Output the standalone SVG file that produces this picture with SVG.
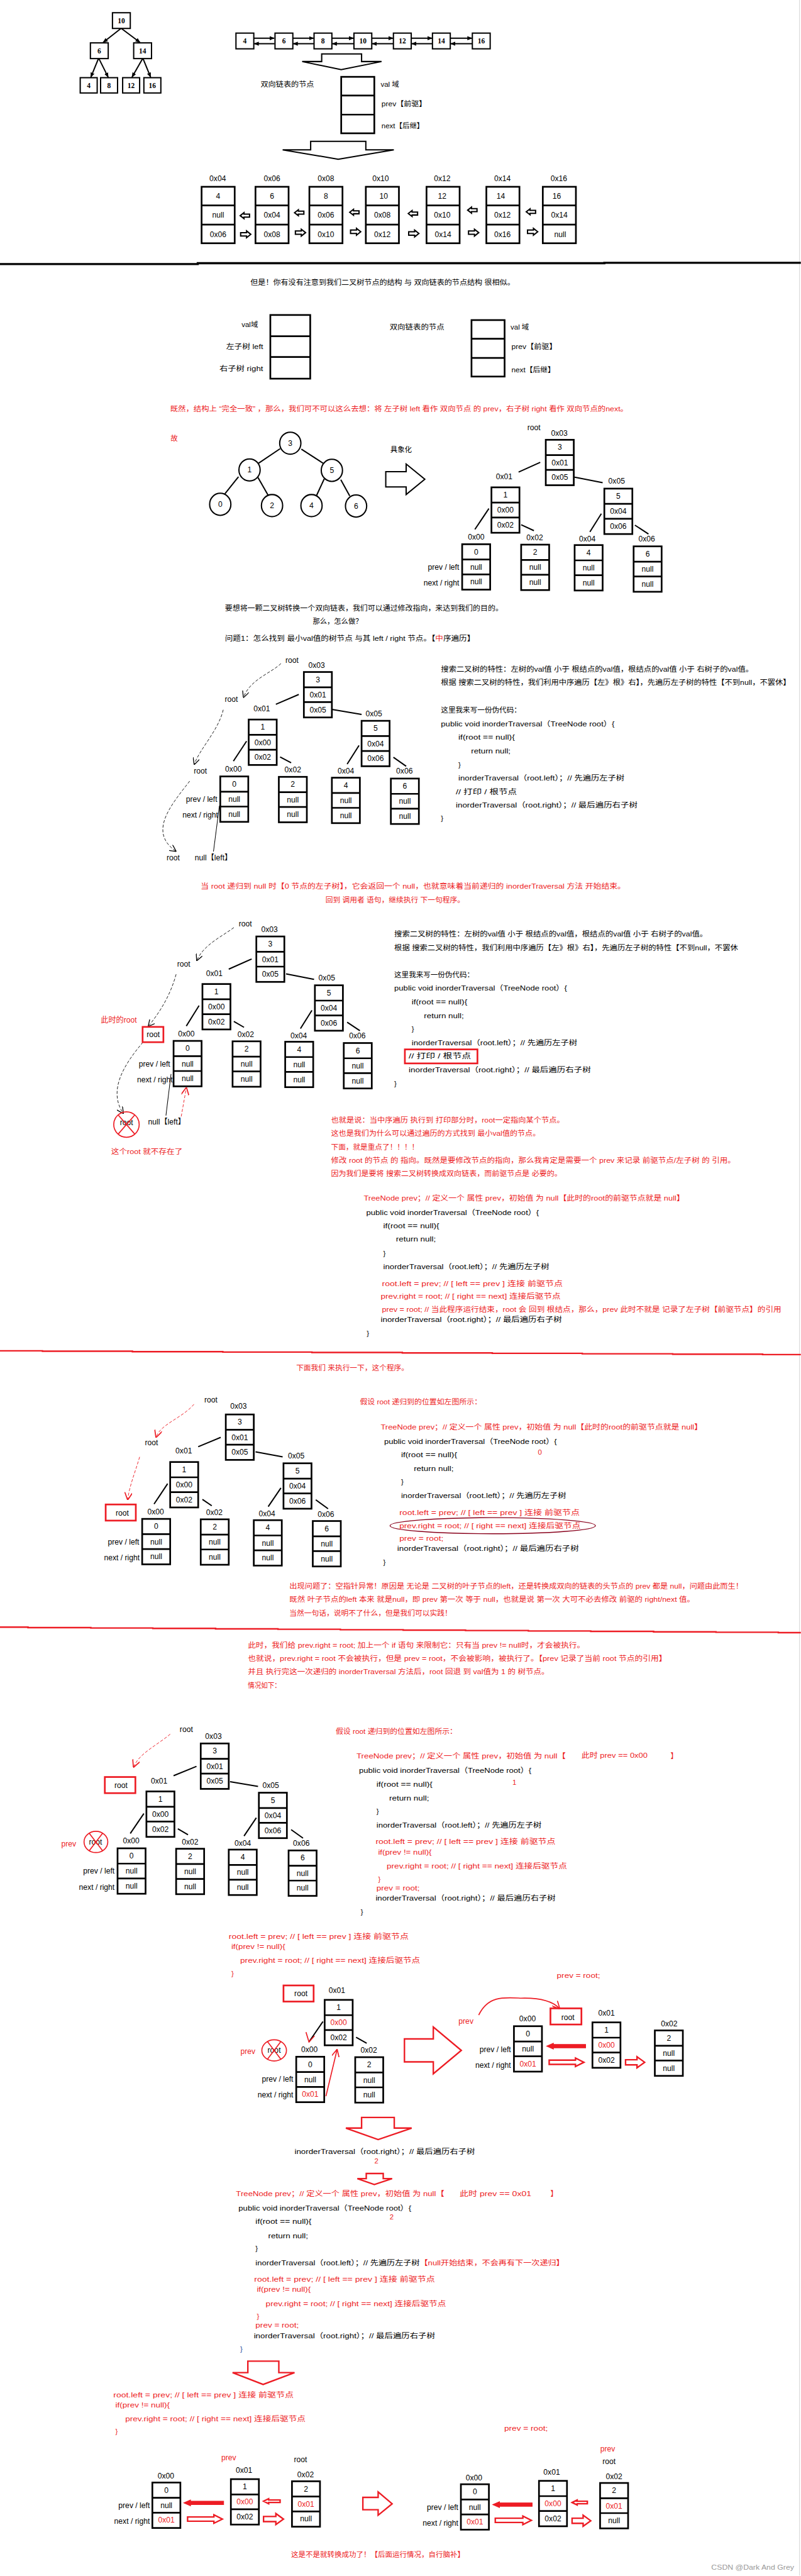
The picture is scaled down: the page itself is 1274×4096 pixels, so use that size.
<svg xmlns="http://www.w3.org/2000/svg" xmlns:xlink="http://www.w3.org/1999/xlink" width="1274" height="4096" viewBox="0 0 1274 4096">
<style>
.t{font-family:"Liberation Sans","Noto Sans CJK SC",sans-serif;font-size:17px;dominant-baseline:central;fill:#000}
.r{fill:#ed1c24}
.m{text-anchor:middle}
.e{text-anchor:end}
.v{font-size:18px}
.sf{font-family:"Liberation Serif","Noto Sans CJK SC",serif;font-weight:bold}
.bx{fill:#fff;stroke:#000;stroke-width:4}
.bt{fill:#fff;stroke:#000;stroke-width:3}
.dv{stroke:#000;stroke-width:4}
.ln{stroke:#000;stroke-width:3;fill:none}
.lr{stroke:#ed1c24;stroke-width:2.5;fill:none}
.dsh{stroke:#000;stroke-width:1.3;fill:none;stroke-dasharray:7 4}
.rdsh{stroke:#ed1c24;stroke-width:1.4;fill:none;stroke-dasharray:7 4}
.rbox{fill:none;stroke:#ed1c24;stroke-width:4}
.ha{fill:#fff;stroke:#000;stroke-width:3;stroke-linejoin:miter}
.hr{fill:#fff;stroke:#ed1c24;stroke-width:3.5}
.fr{fill:#ed1c24;stroke:#ed1c24;stroke-width:1.5}
</style>
<defs>
<marker id="ab" viewBox="0 0 10 10" refX="9" refY="5" markerUnits="userSpaceOnUse" markerWidth="12" markerHeight="12" orient="auto"><path d="M0,1 L10,5 L0,9 z" fill="#000"/></marker>
<marker id="ok" viewBox="0 0 10 10" refX="9" refY="5" markerUnits="userSpaceOnUse" markerWidth="16" markerHeight="16" orient="auto"><path d="M0,0 L10,5 L0,10" fill="none" stroke="#000" stroke-width="1.2"/></marker>
<marker id="or" viewBox="0 0 10 10" refX="9" refY="5" markerUnits="userSpaceOnUse" markerWidth="18" markerHeight="18" orient="auto"><path d="M0,0 L10,5 L0,10" fill="none" stroke="#ed1c24" stroke-width="1.4"/></marker>
<g id="b"><rect x="0" y="0" width="66" height="107" class="bx"/><line x1="0" y1="36" x2="66" y2="36" class="dv"/><line x1="0" y1="71" x2="66" y2="71" class="dv"/></g>
<g id="L"><rect x="0" y="0" width="78" height="133" class="bx"/><line x1="0" y1="44" x2="78" y2="44" class="dv"/><line x1="0" y1="89" x2="78" y2="89" class="dv"/></g>
<path id="sl" d="M-11,0 L-2,-7 L-2,-3.5 L11,-3.5 L11,3.5 L-2,3.5 L-2,7 Z" class="ha"/>
<path id="sr" d="M12,0 L2,-8 L2,-4 L-12,-4 L-12,4 L2,4 L2,8 Z" class="ha"/>
</defs>
<rect x="0" y="0" width="1274" height="4096" fill="#fff"/>
<g transform="scale(0.675)">
<line x1="1884" y1="0" x2="1884" y2="6067" stroke="#d4d4d4" stroke-width="1.5"/>

<!-- ============ connectors ============ -->
<g id="connectors">
<!-- top tree -->
<line x1="285" y1="67" x2="243" y2="100" class="ln" marker-end="url(#ab)"/>
<line x1="286" y1="67" x2="330" y2="100" class="ln" marker-end="url(#ab)"/>
<line x1="232" y1="138" x2="214" y2="182" class="ln" marker-end="url(#ab)"/>
<line x1="233" y1="138" x2="255" y2="182" class="ln" marker-end="url(#ab)"/>
<line x1="336" y1="138" x2="311" y2="182" class="ln" marker-end="url(#ab)"/>
<line x1="337" y1="138" x2="355" y2="182" class="ln" marker-end="url(#ab)"/>
<!-- list double arrows -->
<line x1="598" y1="90" x2="646" y2="90" class="ln" marker-end="url(#ab)"/><line x1="647" y1="103" x2="599" y2="103" class="ln" marker-end="url(#ab)"/>
<line x1="690" y1="90" x2="739" y2="90" class="ln" marker-end="url(#ab)"/><line x1="740" y1="103" x2="691" y2="103" class="ln" marker-end="url(#ab)"/>
<line x1="782" y1="90" x2="833" y2="90" class="ln" marker-end="url(#ab)"/><line x1="834" y1="103" x2="783" y2="103" class="ln" marker-end="url(#ab)"/>
<line x1="876" y1="90" x2="926" y2="90" class="ln" marker-end="url(#ab)"/><line x1="927" y1="103" x2="877" y2="103" class="ln" marker-end="url(#ab)"/>
<line x1="969" y1="90" x2="1018" y2="90" class="ln" marker-end="url(#ab)"/><line x1="1019" y1="103" x2="970" y2="103" class="ln" marker-end="url(#ab)"/>
<line x1="1061" y1="90" x2="1112" y2="90" class="ln" marker-end="url(#ab)"/><line x1="1113" y1="103" x2="1062" y2="103" class="ln" marker-end="url(#ab)"/>
<!-- big down arrows -->
<polygon points="758,127 852,127 852,145 899,145 804,164 712,145 758,145" class="ha"/>
<polygon points="732,333 862,333 862,353 928,353 797,375 666,353 732,353" class="ha"/>
<!-- small list arrows -->
<use href="#sl" x="577" y="508"/><use href="#sl" x="705" y="501"/><use href="#sl" x="835" y="500"/><use href="#sl" x="973" y="503"/><use href="#sl" x="1113" y="495"/><use href="#sl" x="1251" y="499"/>
<use href="#sr" x="579" y="552"/><use href="#sr" x="708" y="548"/><use href="#sr" x="838" y="546"/><use href="#sr" x="975" y="550"/><use href="#sr" x="1116" y="548"/><use href="#sr" x="1255" y="546"/>
<!-- separators -->
<polyline points="0,622 466,622 466,620 1424,620 1424,619 1887,619" fill="none" stroke="#000" stroke-width="5"/>
<polyline points="0,3182 100,3182 100,3183 312,3183 312,3184 525,3184 525,3185 735,3185 735,3186 948,3186 948,3187 1160,3187 1160,3188 1372,3188 1372,3189 1585,3189 1585,3190 1797,3190 1797,3191 1887,3191" fill="none" stroke="#ed1c24" stroke-width="3.5"/>
<polyline points="0,3833 66,3833 66,3834 214,3834 214,3835 360,3835 360,3836 508,3836 508,3837 655,3837 655,3838 802,3838 802,3839 950,3839 950,3840 1097,3840 1097,3841 1245,3841 1245,3842 1392,3842 1392,3843 1540,3843 1540,3844 1687,3844 1687,3845 1834,3845 1834,3846 1887,3846" fill="none" stroke="#ed1c24" stroke-width="3.5"/>
<!-- circle tree -->
<line x1="660" y1="1057" x2="608" y2="1092" class="ln"/>
<line x1="710" y1="1058" x2="764" y2="1093" class="ln"/>
<line x1="562" y1="1123" x2="530" y2="1163" class="ln"/>
<line x1="608" y1="1125" x2="632" y2="1167" class="ln"/>
<line x1="764" y1="1128" x2="746" y2="1167" class="ln"/>
<line x1="803" y1="1130" x2="824" y2="1168" class="ln"/>
<polygon points="909,1111 957,1111 957,1093 1001,1129 957,1165 957,1147 909,1147" class="ha"/>
<!-- T1 -->
<line x1="1273" y1="1089" x2="1222" y2="1112" class="ln"/>
<line x1="1354" y1="1124" x2="1420" y2="1137" class="ln" stroke-width="4"/>
<line x1="1152" y1="1198" x2="1119" y2="1247" class="ln"/>
<line x1="1228" y1="1236" x2="1258" y2="1250" class="ln"/>
<line x1="1417" y1="1210" x2="1390" y2="1253" class="ln"/>
<line x1="1496" y1="1237" x2="1528" y2="1258" class="ln"/>
<!-- T2 -->
<line x1="704" y1="1636" x2="650" y2="1659" class="ln"/>
<line x1="782" y1="1671" x2="852" y2="1683" class="ln" stroke-width="4"/>
<line x1="581" y1="1746" x2="550" y2="1793" class="ln"/>
<line x1="660" y1="1783" x2="686" y2="1797" class="ln"/>
<line x1="846" y1="1756" x2="818" y2="1800" class="ln"/>
<line x1="927" y1="1784" x2="957" y2="1805" class="ln"/>
<path d="M662,1563 C640,1585 590,1600 574,1642" class="dsh" marker-end="url(#ok)"/>
<path d="M526,1672 C515,1720 470,1765 458,1800" class="dsh" marker-end="url(#ok)"/>
<path d="M447,1840 C400,1900 350,1960 414,2005" class="dsh" marker-end="url(#ok)"/>
<line x1="517" y1="1898" x2="503" y2="2006" stroke="#000" stroke-width="1.5"/>
<!-- T3 -->
<line x1="593" y1="2259" x2="539" y2="2283" class="ln"/>
<line x1="674" y1="2294" x2="740" y2="2307" class="ln" stroke-width="4"/>
<line x1="469" y1="2369" x2="439" y2="2417" class="ln"/>
<line x1="551" y1="2406" x2="575" y2="2420" class="ln"/>
<line x1="735" y1="2380" x2="708" y2="2423" class="ln"/>
<line x1="818" y1="2408" x2="848" y2="2428" class="ln"/>
<path d="M551,2185 C525,2205 480,2225 464,2262" class="dsh" marker-end="url(#ok)"/>
<path d="M415,2295 C400,2350 372,2390 350,2417" class="dsh" marker-end="url(#ok)"/>
<path d="M337,2455 C290,2510 255,2570 290,2622" class="dsh" marker-end="url(#ok)"/>
<line x1="403" y1="2530" x2="391" y2="2628" stroke="#000" stroke-width="1.5"/>
<path d="M427,2630 L439,2563" class="rdsh" marker-end="url(#or)"/>
<!-- T4 -->
<line x1="520" y1="3386" x2="467" y2="3408" class="ln"/>
<line x1="602" y1="3420" x2="666" y2="3432" class="ln" stroke-width="4"/>
<line x1="395" y1="3495" x2="363" y2="3543" class="ln"/>
<line x1="477" y1="3532" x2="499" y2="3547" class="ln"/>
<line x1="662" y1="3505" x2="632" y2="3549" class="ln"/>
<line x1="744" y1="3533" x2="773" y2="3554" class="ln"/>
<path d="M457,3308 C430,3340 378,3355 368,3385" class="rdsh" marker-end="url(#or)"/>
<path d="M329,3432 C318,3470 305,3500 301,3532" class="rdsh" marker-end="url(#or)"/>
<ellipse cx="1161" cy="3594" rx="242" ry="19" fill="none" stroke="#88001b" stroke-width="2"/>
<!-- T5 -->
<line x1="463" y1="4161" x2="409" y2="4183" class="ln"/>
<line x1="542" y1="4197" x2="608" y2="4208" class="ln" stroke-width="4"/>
<line x1="339" y1="4272" x2="307" y2="4319" class="ln"/>
<line x1="419" y1="4308" x2="443" y2="4322" class="ln"/>
<line x1="604" y1="4282" x2="575" y2="4325" class="ln"/>
<line x1="686" y1="4310" x2="714" y2="4330" class="ln"/>
<path d="M401,4085 C372,4110 328,4130 315,4162" class="rdsh" marker-end="url(#or)"/>
<!-- mini left (crop10) -->
<line x1="761" y1="4762" x2="728" y2="4810" class="ln"/>
<polyline points="721,4787 728,4810 741,4796" class="lr"/>
<line x1="839" y1="4799" x2="864" y2="4813" class="ln"/>
<line x1="768" y1="4938" x2="794" y2="4829" class="lr" marker-end="url(#or)"/>
<polygon points="953,4803 1021,4803 1021,4775 1087,4830 1021,4885 1021,4857 953,4857" class="hr"/>
<path d="M1128,4747 C1150,4700 1190,4705 1228,4707 C1265,4706 1300,4712 1318,4731" class="lr" marker-end="url(#or)"/>
<polygon points="1288,4820 1304,4813 1304,4816 1380,4816 1380,4824 1304,4824 1304,4827" class="fr"/>
<polygon points="1294,4853 1356,4853 1356,4848 1376,4858 1356,4868 1356,4863 1294,4863" class="hr"/>
<polygon points="1474,4852 1501,4852 1501,4845 1519,4858 1501,4871 1501,4864 1474,4864" class="hr"/>
<polygon points="852,4988 929,4988 929,5013 970,5013 891,5040 815,5013 852,5013" class="hr"/>
<polygon points="863,5120 903,5120 903,5132 924,5132 882,5146 842,5132 863,5132" class="hr"/>
<polygon points="584,5562 657,5562 657,5589 694,5589 620,5617 548,5589 584,5589" class="hr"/>
<!-- final diagrams -->
<polygon points="433,5896 449,5889 449,5892 527,5892 527,5900 449,5900 449,5903" class="fr"/>
<polygon points="621,5892 633,5886 633,5889 660,5889 660,5895 633,5895 633,5898" class="hr"/>
<polygon points="442,5929 504,5929 504,5924 524,5934 504,5944 504,5939 442,5939" class="hr"/>
<polygon points="621,5928 650,5928 650,5921 668,5934 650,5947 650,5940 621,5940" class="hr"/>
<polygon points="855,5883 891,5883 891,5870 924,5898 891,5925 891,5912 855,5912" class="hr"/>
<polygon points="1161,5900 1177,5893 1177,5896 1254,5896 1254,5904 1177,5904 1177,5907" class="fr"/>
<polygon points="1348,5895 1360,5889 1360,5892 1384,5892 1384,5898 1360,5898 1360,5901" class="hr"/>
<polygon points="1167,5932 1232,5932 1232,5927 1252,5937 1232,5947 1232,5942 1167,5942" class="hr"/>
<polygon points="1348,5932 1374,5932 1374,5925 1392,5938 1374,5951 1374,5944 1348,5944" class="hr"/>
</g>

<!-- ============ section 1 ============ -->
<g id="top-tree">
<g id="tt10"><rect x="265" y="30" width="42" height="37" class="bt"/><text class="t m sf" x="286" y="49">10</text></g>
<g id="tt6"><rect x="213" y="101" width="42" height="37" class="bt"/><text class="t m sf" x="234" y="120">6</text></g>
<g id="tt14"><rect x="315" y="101" width="42" height="37" class="bt"/><text class="t m sf" x="336" y="120">14</text></g>
<g id="tt4"><rect x="189" y="183" width="40" height="36" class="bt"/><text class="t m sf" x="209" y="201">4</text></g>
<g id="tt8"><rect x="237" y="183" width="40" height="36" class="bt"/><text class="t m sf" x="257" y="201">8</text></g>
<g id="tt12"><rect x="289" y="183" width="40" height="36" class="bt"/><text class="t m sf" x="309" y="201">12</text></g>
<g id="tt16"><rect x="339" y="183" width="40" height="36" class="bt"/><text class="t m sf" x="359" y="201">16</text></g>
</g>
<g id="top-list">
<g id="tl4"><rect x="556" y="78" width="42" height="37" class="bt"/><text class="t m sf" x="577" y="97">4</text></g>
<g id="tl6"><rect x="648" y="78" width="42" height="37" class="bt"/><text class="t m sf" x="669" y="97">6</text></g>
<g id="tl8"><rect x="740" y="78" width="42" height="37" class="bt"/><text class="t m sf" x="761" y="97">8</text></g>
<g id="tl10"><rect x="834" y="78" width="42" height="37" class="bt"/><text class="t m sf" x="855" y="97">10</text></g>
<g id="tl12"><rect x="927" y="78" width="42" height="37" class="bt"/><text class="t m sf" x="948" y="97">12</text></g>
<g id="tl14"><rect x="1019" y="78" width="42" height="37" class="bt"/><text class="t m sf" x="1040" y="97">14</text></g>
<g id="tl16"><rect x="1113" y="78" width="42" height="37" class="bt"/><text class="t m sf" x="1134" y="97">16</text></g>
</g>
<g id="dl-node1">
<text class="t" x="614" y="198" textLength="126" lengthAdjust="spacingAndGlyphs">双向链表的节点</text>
<use href="#L" x="804" y="181"/>
<text class="t" x="897" y="198">val 域</text>
<text class="t" x="899" y="245" textLength="106" lengthAdjust="spacingAndGlyphs">prev【前驱】</text>
<text class="t" x="899" y="297" textLength="100" lengthAdjust="spacingAndGlyphs">next【后继】</text>
</g>
<g id="list-nodes">
<g id="ln04"><text class="t m v" x="513" y="420">0x04</text><use href="#L" x="475" y="440"/><text class="t m v" x="514" y="462">4</text><text class="t m v" x="514" y="507">null</text><text class="t m v" x="514" y="552">0x06</text></g>
<g id="ln06"><text class="t m v" x="641" y="420">0x06</text><use href="#L" x="602" y="440"/><text class="t m v" x="641" y="462">6</text><text class="t m v" x="641" y="507">0x04</text><text class="t m v" x="641" y="552">0x08</text></g>
<g id="ln08"><text class="t m v" x="768" y="420">0x08</text><use href="#L" x="729" y="440"/><text class="t m v" x="768" y="462">8</text><text class="t m v" x="768" y="507">0x06</text><text class="t m v" x="768" y="552">0x10</text></g>
<g id="ln10"><text class="t m v" x="897" y="420">0x10</text><use href="#L" x="862" y="440"/><text class="t m v" x="904" y="462">10</text><text class="t m v" x="901" y="507">0x08</text><text class="t m v" x="901" y="552">0x12</text></g>
<g id="ln12"><text class="t m v" x="1042" y="420">0x12</text><use href="#L" x="1005" y="440"/><text class="t m v" x="1042" y="462">12</text><text class="t m v" x="1042" y="507">0x10</text><text class="t m v" x="1044" y="552">0x14</text></g>
<g id="ln14"><text class="t m v" x="1184" y="420">0x14</text><use href="#L" x="1146" y="440"/><text class="t m v" x="1180" y="462">14</text><text class="t m v" x="1184" y="507">0x12</text><text class="t m v" x="1184" y="552">0x16</text></g>
<g id="ln16"><text class="t m v" x="1317" y="420">0x16</text><use href="#L" x="1279" y="440"/><text class="t m v" x="1312" y="462">16</text><text class="t m v" x="1318" y="507">0x14</text><text class="t m v" x="1320" y="552">null</text></g>
</g>

<!-- ============ section 2 ============ -->
<text class="t" x="590" y="665" textLength="623" lengthAdjust="spacingAndGlyphs">但是！你有没有注意到我们二叉树节点的结构 与 双向链表的节点结构 很相似。</text>
<g id="tree-node-struct">
<rect x="637" y="742" width="94" height="150" class="bx"/><line x1="637" y1="792" x2="731" y2="792" class="dv"/><line x1="637" y1="841" x2="731" y2="841" class="dv"/>
<text class="t e" x="608" y="765">val域</text>
<text class="t e" x="620" y="817" textLength="87" lengthAdjust="spacingAndGlyphs">左子树 left</text>
<text class="t e" x="620" y="868" textLength="103" lengthAdjust="spacingAndGlyphs">右子树 right</text>
</g>
<g id="dl-node2">
<text class="t" x="918" y="771" textLength="129" lengthAdjust="spacingAndGlyphs">双向链表的节点</text>
<use href="#L" x="1111" y="754"/>
<text class="t" x="1203" y="771">val 域</text>
<text class="t" x="1205" y="817" textLength="107" lengthAdjust="spacingAndGlyphs">prev【前驱】</text>
<text class="t" x="1205" y="871" textLength="103" lengthAdjust="spacingAndGlyphs">next【后继】</text>
</g>
<text class="t r" x="401" y="963" textLength="1079" lengthAdjust="spacingAndGlyphs">既然，结构上 “完全一致” ，那么，我们可不可以这么去想：将 左子树 left 看作 双向节点 的 prev，右子树 right 看作 双向节点的next。</text>
<text class="t r" x="402" y="1032">故</text>
<g id="circle-tree">
<g id="c3"><ellipse cx="684" cy="1044" rx="25" ry="26" fill="#fff" stroke="#000" stroke-width="3"/><text class="t m v" x="684" y="1044">3</text></g>
<g id="c1"><ellipse cx="588" cy="1107" rx="25" ry="26" fill="#fff" stroke="#000" stroke-width="3"/><text class="t m v" x="588" y="1107">1</text></g>
<g id="c5"><ellipse cx="782" cy="1108" rx="25" ry="26" fill="#fff" stroke="#000" stroke-width="3"/><text class="t m v" x="782" y="1108">5</text></g>
<g id="c0"><ellipse cx="519" cy="1188" rx="25" ry="26" fill="#fff" stroke="#000" stroke-width="3"/><text class="t m v" x="519" y="1188">0</text></g>
<g id="c2"><ellipse cx="641" cy="1191" rx="25" ry="26" fill="#fff" stroke="#000" stroke-width="3"/><text class="t m v" x="641" y="1191">2</text></g>
<g id="c4"><ellipse cx="734" cy="1191" rx="25" ry="26" fill="#fff" stroke="#000" stroke-width="3"/><text class="t m v" x="734" y="1191">4</text></g>
<g id="c6"><ellipse cx="839" cy="1192" rx="25" ry="26" fill="#fff" stroke="#000" stroke-width="3"/><text class="t m v" x="839" y="1192">6</text></g>
</g>
<text class="t m" x="945" y="1059">具象化</text>
<g id="T1">
<text class="t m v" x="1258" y="1007">root</text><text class="t m v" x="1318" y="1020">0x03</text>
<text class="t m v" x="1188" y="1123">0x01</text><text class="t m v" x="1453" y="1134">0x05</text>
<text class="t m v" x="1122" y="1265">0x00</text><text class="t m v" x="1260" y="1267">0x02</text><text class="t m v" x="1384" y="1270">0x04</text><text class="t m v" x="1524" y="1270">0x06</text>
<text class="t e v" x="1082" y="1336">prev / left</text><text class="t e v" x="1082" y="1373">next / right</text>
<g id="T1-3"><use href="#b" x="1286" y="1036"/><text class="t m v" x="1319" y="1054">3</text><text class="t m v" x="1319" y="1090">0x01</text><text class="t m v" x="1319" y="1125">0x05</text></g>
<g id="T1-1"><use href="#b" x="1158" y="1148"/><text class="t m v" x="1191" y="1166">1</text><text class="t m v" x="1191" y="1202">0x00</text><text class="t m v" x="1191" y="1237">0x02</text></g>
<g id="T1-5"><use href="#b" x="1424" y="1151"/><text class="t m v" x="1457" y="1169">5</text><text class="t m v" x="1457" y="1205">0x04</text><text class="t m v" x="1457" y="1240">0x06</text></g>
<g id="T1-0"><use href="#b" x="1089" y="1282"/><text class="t m v" x="1122" y="1300">0</text><text class="t m v" x="1122" y="1336">null</text><text class="t m v" x="1122" y="1371">null</text></g>
<g id="T1-2"><use href="#b" x="1228" y="1283"/><text class="t m v" x="1261" y="1301">2</text><text class="t m v" x="1261" y="1337">null</text><text class="t m v" x="1261" y="1372">null</text></g>
<g id="T1-4"><use href="#b" x="1354" y="1284"/><text class="t m v" x="1387" y="1302">4</text><text class="t m v" x="1387" y="1338">null</text><text class="t m v" x="1387" y="1373">null</text></g>
<g id="T1-6"><use href="#b" x="1493" y="1287"/><text class="t m v" x="1526" y="1305">6</text><text class="t m v" x="1526" y="1341">null</text><text class="t m v" x="1526" y="1376">null</text></g>
</g>
<text class="t" x="530" y="1432" textLength="655" lengthAdjust="spacingAndGlyphs">要想将一颗二叉树转换一个双向链表，我们可以通过修改指向，来达到我们的目的。</text>
<text class="t" x="737" y="1463" textLength="117" lengthAdjust="spacingAndGlyphs">那么，怎么做？</text>
<text class="t" x="530" y="1503" textLength="589" lengthAdjust="spacingAndGlyphs">问题1：怎么找到 最小val值的树节点 与其 left / right 节点。【<tspan class="r">中</tspan>序遍历】</text>

<!-- ============ section 3 ============ -->
<g id="T2">
<text class="t m v" x="688" y="1555">root</text><text class="t m v" x="746" y="1567">0x03</text>
<text class="t m v" x="545" y="1648">root</text><text class="t m v" x="472" y="1817">root</text>
<text class="t m v" x="408" y="2021">root</text><text class="t m v" x="503" y="2021">null【left】</text>
<text class="t m v" x="617" y="1670">0x01</text><text class="t m v" x="881" y="1681">0x05</text>
<text class="t m v" x="550" y="1812">0x00</text><text class="t m v" x="690" y="1813">0x02</text><text class="t m v" x="815" y="1817">0x04</text><text class="t m v" x="953" y="1817">0x06</text>
<text class="t e v" x="512" y="1883">prev / left</text><text class="t e v" x="514" y="1920">next / right</text>
<g id="T2-3"><use href="#b" x="716" y="1583"/><text class="t m v" x="749" y="1601">3</text><text class="t m v" x="749" y="1637">0x01</text><text class="t m v" x="749" y="1672">0x05</text></g>
<g id="T2-1"><use href="#b" x="586" y="1695"/><text class="t m v" x="619" y="1713">1</text><text class="t m v" x="619" y="1749">0x00</text><text class="t m v" x="619" y="1784">0x02</text></g>
<g id="T2-5"><use href="#b" x="852" y="1698"/><text class="t m v" x="885" y="1716">5</text><text class="t m v" x="885" y="1752">0x04</text><text class="t m v" x="885" y="1787">0x06</text></g>
<g id="T2-0"><use href="#b" x="519" y="1829"/><text class="t m v" x="552" y="1847">0</text><text class="t m v" x="552" y="1883">null</text><text class="t m v" x="552" y="1918">null</text></g>
<g id="T2-2"><use href="#b" x="657" y="1830"/><text class="t m v" x="690" y="1848">2</text><text class="t m v" x="690" y="1884">null</text><text class="t m v" x="690" y="1919">null</text></g>
<g id="T2-4"><use href="#b" x="782" y="1832"/><text class="t m v" x="815" y="1850">4</text><text class="t m v" x="815" y="1886">null</text><text class="t m v" x="815" y="1921">null</text></g>
<g id="T2-6"><use href="#b" x="921" y="1834"/><text class="t m v" x="954" y="1852">6</text><text class="t m v" x="954" y="1888">null</text><text class="t m v" x="954" y="1923">null</text></g>
</g>
<g id="code1">
<text class="t" x="1039" y="1577" textLength="736" lengthAdjust="spacingAndGlyphs">搜索二叉树的特性：左树的val值 小于 根结点的val值，根结点的val值 小于 右树子的val值。</text>
<text class="t" x="1039" y="1608" textLength="824" lengthAdjust="spacingAndGlyphs">根据 搜索二叉树的特性，我们利用中序遍历【左》根》右】，先遍历左子树的特性【不到null，不罢休】</text>
<text class="t" x="1039" y="1673" textLength="189" lengthAdjust="spacingAndGlyphs">这里我来写一份伪代码：</text>
<text class="t" x="1039" y="1705" textLength="409" lengthAdjust="spacingAndGlyphs">public void inorderTraversal（TreeNode root）{</text>
<text class="t" x="1080" y="1737" textLength="133" lengthAdjust="spacingAndGlyphs">if(root == null){</text>
<text class="t" x="1110" y="1769" textLength="93" lengthAdjust="spacingAndGlyphs">return null;</text>
<text class="t" x="1080" y="1801">}</text>
<text class="t" x="1080" y="1833" textLength="391" lengthAdjust="spacingAndGlyphs">inorderTraversal（root.left）；// 先遍历左子树</text>
<text class="t" x="1074" y="1865" textLength="144" lengthAdjust="spacingAndGlyphs">// 打印 / 根节点</text>
<text class="t" x="1074" y="1897" textLength="428" lengthAdjust="spacingAndGlyphs">inorderTraversal（root.right）；// 最后遍历右子树</text>
<text class="t" x="1039" y="1928">}</text>
</g>
<text class="t r" x="473" y="2087" textLength="1001" lengthAdjust="spacingAndGlyphs">当 root 递归到 null 时【0 节点的左子树】，它会返回一个 null，也就意味着当前递归的 inorderTraversal 方法 开始结束。</text>
<text class="t r" x="767" y="2120" textLength="328" lengthAdjust="spacingAndGlyphs">回到 调用者 语句，继续执行 下一句程序。</text>

<!-- ============ section 4 ============ -->
<g id="T3">
<text class="t m v" x="578" y="2177">root</text><text class="t m v" x="635" y="2189">0x03</text>
<text class="t m v" x="433" y="2271">root</text>
<text class="t m v r" x="280" y="2403">此时的root</text>
<rect x="336" y="2419" width="49" height="36" class="rbox"/><text class="t m v" x="361" y="2437">root</text>
<text class="t m v" x="505" y="2293">0x01</text><text class="t m v" x="770" y="2304">0x05</text>
<text class="t m v" x="439" y="2435">0x00</text><text class="t m v" x="579" y="2437">0x02</text><text class="t m v" x="704" y="2440">0x04</text><text class="t m v" x="842" y="2440">0x06</text>
<text class="t e v" x="401" y="2506">prev / left</text><text class="t e v" x="407" y="2543">next / right</text>
<g id="T3-3"><use href="#b" x="604" y="2206"/><text class="t m v" x="637" y="2224">3</text><text class="t m v" x="637" y="2260">0x01</text><text class="t m v" x="637" y="2295">0x05</text></g>
<g id="T3-1"><use href="#b" x="477" y="2318"/><text class="t m v" x="510" y="2336">1</text><text class="t m v" x="510" y="2372">0x00</text><text class="t m v" x="510" y="2407">0x02</text></g>
<g id="T3-5"><use href="#b" x="742" y="2321"/><text class="t m v" x="775" y="2339">5</text><text class="t m v" x="775" y="2375">0x04</text><text class="t m v" x="775" y="2410">0x06</text></g>
<g id="T3-0"><use href="#b" x="409" y="2452"/><text class="t m v" x="442" y="2470">0</text><text class="t m v" x="442" y="2506">null</text><text class="t m v" x="442" y="2541">null</text></g>
<g id="T3-2"><use href="#b" x="548" y="2453"/><text class="t m v" x="581" y="2471">2</text><text class="t m v" x="581" y="2507">null</text><text class="t m v" x="581" y="2542">null</text></g>
<g id="T3-4"><use href="#b" x="672" y="2454"/><text class="t m v" x="705" y="2472">4</text><text class="t m v" x="705" y="2508">null</text><text class="t m v" x="705" y="2543">null</text></g>
<g id="T3-6"><use href="#b" x="810" y="2457"/><text class="t m v" x="843" y="2475">6</text><text class="t m v" x="843" y="2511">null</text><text class="t m v" x="843" y="2546">null</text></g>
<g id="T3-dead"><text class="t m v" x="298" y="2645">root</text><ellipse cx="298" cy="2649" rx="30" ry="30" fill="none" stroke="#ed1c24" stroke-width="2.5"/><line x1="278" y1="2626" x2="318" y2="2672" class="lr"/><line x1="318" y1="2626" x2="278" y2="2672" class="lr"/></g>
<text class="t v" x="349" y="2643">null【left】</text>
<text class="t r" x="262" y="2713" textLength="168" lengthAdjust="spacingAndGlyphs">这个root 就不存在了</text>
</g>
<g id="code2">
<text class="t" x="929" y="2200" textLength="738" lengthAdjust="spacingAndGlyphs">搜索二叉树的特性：左树的val值 小于 根结点的val值，根结点的val值 小于 右树子的val值。</text>
<text class="t" x="929" y="2232" textLength="810" lengthAdjust="spacingAndGlyphs">根据 搜索二叉树的特性，我们利用中序遍历【左》根》右】，先遍历左子树的特性【不到null，不罢休</text>
<text class="t" x="929" y="2297" textLength="188" lengthAdjust="spacingAndGlyphs">这里我来写一份伪代码：</text>
<text class="t" x="929" y="2328" textLength="407" lengthAdjust="spacingAndGlyphs">public void inorderTraversal（TreeNode root）{</text>
<text class="t" x="970" y="2360" textLength="131" lengthAdjust="spacingAndGlyphs">if(root == null){</text>
<text class="t" x="999" y="2392" textLength="94" lengthAdjust="spacingAndGlyphs">return null;</text>
<text class="t" x="970" y="2423">}</text>
<text class="t" x="970" y="2456" textLength="390" lengthAdjust="spacingAndGlyphs">inorderTraversal（root.left）；// 先遍历左子树</text>
<rect x="954" y="2472" width="171" height="33" class="rbox"/>
<text class="t" x="963" y="2488" textLength="147" lengthAdjust="spacingAndGlyphs">// 打印 / 根节点</text>
<text class="t" x="963" y="2520" textLength="429" lengthAdjust="spacingAndGlyphs">inorderTraversal（root.right）；// 最后遍历右子树</text>
<text class="t" x="929" y="2552">}</text>
</g>
<g id="notes1">
<text class="t r" x="780" y="2638" textLength="550" lengthAdjust="spacingAndGlyphs">也就是说：当中序遍历 执行到 打印部分时，root一定指向某个节点。</text>
<text class="t r" x="780" y="2670" textLength="493" lengthAdjust="spacingAndGlyphs">这也是我们为什么可以通过遍历的方式找到 最小val值的节点。</text>
<text class="t r" x="780" y="2702" textLength="207" lengthAdjust="spacingAndGlyphs">下面，就是重点了！！！！</text>
<text class="t r" x="780" y="2733" textLength="953" lengthAdjust="spacingAndGlyphs">修改 root 的节点 的 指向。既然是要修改节点的指向，那么我肯定是需要一个 prev 来记录 前驱节点/左子树 的 引用。</text>
<text class="t r" x="780" y="2765" textLength="544" lengthAdjust="spacingAndGlyphs">因为我们是要将 搜索二叉树转换成双向链表，而前驱节点是 必要的。</text>
</g>
<g id="code3">
<text class="t r" x="857" y="2822" textLength="756" lengthAdjust="spacingAndGlyphs">TreeNode prev；// 定义一个 属性 prev，初始值 为 null【此时的root的前驱节点就是 null】</text>
<text class="t" x="863" y="2856" textLength="407" lengthAdjust="spacingAndGlyphs">public void inorderTraversal（TreeNode root）{</text>
<text class="t" x="903" y="2887" textLength="132" lengthAdjust="spacingAndGlyphs">if(root == null){</text>
<text class="t" x="933" y="2919" textLength="94" lengthAdjust="spacingAndGlyphs">return null;</text>
<text class="t" x="903" y="2952">}</text>
<text class="t" x="903" y="2983" textLength="391" lengthAdjust="spacingAndGlyphs">inorderTraversal（root.left）；// 先遍历左子树</text>
<text class="t r" x="900" y="3023" textLength="426" lengthAdjust="spacingAndGlyphs">root.left = prev; // [ left == prev ] 连接 前驱节点</text>
<text class="t r" x="897" y="3054" textLength="424" lengthAdjust="spacingAndGlyphs">prev.right = root; // [ right == next] 连接后驱节点</text>
<text class="t r" x="900" y="3085" textLength="941" lengthAdjust="spacingAndGlyphs">prev = root; // 当此程序运行结束，root 会 回到 根结点，那么，prev 此时不就是 记录了左子树【前驱节点】的引用</text>
<text class="t" x="897" y="3108" textLength="427" lengthAdjust="spacingAndGlyphs">inorderTraversal（root.right）；// 最后遍历右子树</text>
<text class="t" x="864" y="3140">}</text>
</g>
<text class="t r" x="698" y="3222" textLength="265" lengthAdjust="spacingAndGlyphs">下面我们 来执行一下，这个程序。</text>

<!-- ============ section 5 ============ -->
<g id="T4">
<text class="t m v" x="497" y="3298">root</text><text class="t m v" x="562" y="3313">0x03</text>
<text class="t m v" x="357" y="3398">root</text>
<rect x="249" y="3544" width="71" height="38" class="rbox"/><text class="t m v" x="288" y="3564">root</text>
<text class="t m v" x="433" y="3418">0x01</text><text class="t m v" x="698" y="3430">0x05</text>
<text class="t m v" x="367" y="3562">0x00</text><text class="t m v" x="505" y="3563">0x02</text><text class="t m v" x="629" y="3566">0x04</text><text class="t m v" x="768" y="3567">0x06</text>
<text class="t e v" x="328" y="3632">prev / left</text><text class="t e v" x="329" y="3669">next / right</text>
<g id="T4-3"><use href="#b" x="532" y="3332"/><text class="t m v" x="565" y="3350">3</text><text class="t m v" x="565" y="3386">0x01</text><text class="t m v" x="565" y="3421">0x05</text></g>
<g id="T4-1"><use href="#b" x="401" y="3444"/><text class="t m v" x="434" y="3462">1</text><text class="t m v" x="434" y="3498">0x00</text><text class="t m v" x="434" y="3533">0x02</text></g>
<g id="T4-5"><use href="#b" x="668" y="3447"/><text class="t m v" x="701" y="3465">5</text><text class="t m v" x="701" y="3501">0x04</text><text class="t m v" x="701" y="3536">0x06</text></g>
<g id="T4-0"><use href="#b" x="335" y="3578"/><text class="t m v" x="368" y="3596">0</text><text class="t m v" x="368" y="3632">null</text><text class="t m v" x="368" y="3667">null</text></g>
<g id="T4-2"><use href="#b" x="473" y="3579"/><text class="t m v" x="506" y="3597">2</text><text class="t m v" x="506" y="3633">null</text><text class="t m v" x="506" y="3668">null</text></g>
<g id="T4-4"><use href="#b" x="598" y="3581"/><text class="t m v" x="631" y="3599">4</text><text class="t m v" x="631" y="3635">null</text><text class="t m v" x="631" y="3670">null</text></g>
<g id="T4-6"><use href="#b" x="737" y="3583"/><text class="t m v" x="770" y="3601">6</text><text class="t m v" x="770" y="3637">null</text><text class="t m v" x="770" y="3672">null</text></g>
</g>
<g id="code4">
<text class="t r" x="848" y="3302" textLength="287" lengthAdjust="spacingAndGlyphs">假设 root 递归到的位置如左图所示：</text>
<text class="t r" x="897" y="3362" textLength="758" lengthAdjust="spacingAndGlyphs">TreeNode prev；// 定义一个 属性 prev，初始值 为 null【此时的root的前驱节点就是 null】</text>
<text class="t" x="905" y="3395" textLength="407" lengthAdjust="spacingAndGlyphs">public void inorderTraversal（TreeNode root）{</text>
<text class="t r m" x="1272" y="3420">0</text>
<text class="t" x="945" y="3427" textLength="132" lengthAdjust="spacingAndGlyphs">if(root == null){</text>
<text class="t" x="975" y="3459" textLength="94" lengthAdjust="spacingAndGlyphs">return null;</text>
<text class="t" x="945" y="3491">}</text>
<text class="t" x="945" y="3523" textLength="389" lengthAdjust="spacingAndGlyphs">inorderTraversal（root.left）；// 先遍历左子树</text>
<text class="t r" x="941" y="3563" textLength="425" lengthAdjust="spacingAndGlyphs">root.left = prev; // [ left == prev ] 连接 前驱节点</text>
<text class="t r" x="941" y="3594" textLength="427" lengthAdjust="spacingAndGlyphs">prev.right = root; // [ right == next] 连接后驱节点</text>
<text class="t r" x="941" y="3623" textLength="104" lengthAdjust="spacingAndGlyphs">prev = root;</text>
<text class="t" x="936" y="3648" textLength="428" lengthAdjust="spacingAndGlyphs">inorderTraversal（root.right）；// 最后遍历右子树</text>
<text class="t" x="903" y="3680">}</text>
</g>
<g id="notes2">
<text class="t r" x="682" y="3737" textLength="1069" lengthAdjust="spacingAndGlyphs">出现问题了：空指针异常！原因是 无论是 二叉树的叶子节点的left，还是转换成双向的链表的头节点的 prev 都是 null，问题由此而生！</text>
<text class="t r" x="682" y="3768" textLength="955" lengthAdjust="spacingAndGlyphs">既然 叶子节点的left 本来 就是null，即 prev 第一次 等于 null，也就是说 第一次 大可不必去修改 前驱的 right/next 值。</text>
<text class="t r" x="682" y="3800" textLength="383" lengthAdjust="spacingAndGlyphs">当然一句话，说明不了什么，但是我们可以实践！</text>
<text class="t r" x="584" y="3875" textLength="794" lengthAdjust="spacingAndGlyphs">此时，我们给 prev.right = root; 加上一个 if 语句 来限制它：只有当 prev != null时，才会被执行。</text>
<text class="t r" x="584" y="3907" textLength="987" lengthAdjust="spacingAndGlyphs">也就说，prev.right = root 不会被执行，但是 prev = root，不会被影响，被执行了。【prev 记录了当前 root 节点的引用】</text>
<text class="t r" x="584" y="3938" textLength="710" lengthAdjust="spacingAndGlyphs">并且 执行完这一次递归的 inorderTraversal 方法后，root 回退 到 val值为 1 的 树节点。</text>
<text class="t r" x="584" y="3970" textLength="78" lengthAdjust="spacingAndGlyphs">情况如下：</text>
</g>

<!-- ============ section 6 ============ -->
<g id="T5">
<text class="t m v" x="439" y="4074">root</text><text class="t m v" x="503" y="4090">0x03</text>
<rect x="247" y="4186" width="72" height="38" class="rbox"/><text class="t m v" x="285" y="4206">root</text>
<text class="t m v" x="375" y="4195">0x01</text><text class="t m v" x="638" y="4206">0x05</text>
<text class="t m v" x="309" y="4337">0x00</text><text class="t m v" x="448" y="4339">0x02</text><text class="t m v" x="572" y="4342">0x04</text><text class="t m v" x="710" y="4342">0x06</text>
<text class="t m v r" x="162" y="4343">prev</text>
<g id="T5-dead"><text class="t m v" x="225" y="4339">root</text><ellipse cx="226" cy="4339" rx="28" ry="25" fill="none" stroke="#ed1c24" stroke-width="2.5"/><line x1="210" y1="4318" x2="242" y2="4360" class="lr"/><line x1="242" y1="4318" x2="210" y2="4360" class="lr"/></g>
<text class="t e v" x="270" y="4408">prev / left</text><text class="t e v" x="270" y="4446">next / right</text>
<g id="T5-3"><use href="#b" x="473" y="4107"/><text class="t m v" x="506" y="4125">3</text><text class="t m v" x="506" y="4161">0x01</text><text class="t m v" x="506" y="4196">0x05</text></g>
<g id="T5-1"><use href="#b" x="345" y="4220"/><text class="t m v" x="378" y="4238">1</text><text class="t m v" x="378" y="4274">0x00</text><text class="t m v" x="378" y="4309">0x02</text></g>
<g id="T5-5"><use href="#b" x="610" y="4223"/><text class="t m v" x="643" y="4241">5</text><text class="t m v" x="643" y="4277">0x04</text><text class="t m v" x="643" y="4312">0x06</text></g>
<g id="T5-0"><use href="#b" x="277" y="4354"/><text class="t m v" x="310" y="4372">0</text><text class="t m v" x="310" y="4408">null</text><text class="t m v" x="310" y="4443">null</text></g>
<g id="T5-2"><use href="#b" x="415" y="4355"/><text class="t m v" x="448" y="4373">2</text><text class="t m v" x="448" y="4409">null</text><text class="t m v" x="448" y="4444">null</text></g>
<g id="T5-4"><use href="#b" x="539" y="4357"/><text class="t m v" x="572" y="4375">4</text><text class="t m v" x="572" y="4411">null</text><text class="t m v" x="572" y="4446">null</text></g>
<g id="T5-6"><use href="#b" x="680" y="4359"/><text class="t m v" x="713" y="4377">6</text><text class="t m v" x="713" y="4413">null</text><text class="t m v" x="713" y="4448">null</text></g>
</g>
<g id="code5">
<text class="t r" x="791" y="4079" textLength="286" lengthAdjust="spacingAndGlyphs">假设 root 递归到的位置如左图所示：</text>
<text class="t r" x="840" y="4137" textLength="493" lengthAdjust="spacingAndGlyphs">TreeNode prev；// 定义一个 属性 prev，初始值 为 null【</text>
<text class="t r" x="1370" y="4135" textLength="156" lengthAdjust="spacingAndGlyphs">此时 prev == 0x00</text>
<text class="t r" x="1580" y="4137">】</text>
<text class="t" x="846" y="4171" textLength="406" lengthAdjust="spacingAndGlyphs">public void inorderTraversal（TreeNode root）{</text>
<text class="t r m" x="1212" y="4199">1</text>
<text class="t" x="887" y="4203" textLength="132" lengthAdjust="spacingAndGlyphs">if(root == null){</text>
<text class="t" x="917" y="4235" textLength="94" lengthAdjust="spacingAndGlyphs">return null;</text>
<text class="t" x="887" y="4267">}</text>
<text class="t" x="887" y="4299" textLength="389" lengthAdjust="spacingAndGlyphs">inorderTraversal（root.left）；// 先遍历左子树</text>
<text class="t r" x="885" y="4338" textLength="424" lengthAdjust="spacingAndGlyphs">root.left = prev; // [ left == prev ] 连接 前驱节点</text>
<text class="t r" x="891" y="4363" textLength="126" lengthAdjust="spacingAndGlyphs">if(prev != null){</text>
<text class="t r" x="911" y="4395" textLength="425" lengthAdjust="spacingAndGlyphs">prev.right = root; // [ right == next] 连接后驱节点</text>
<text class="t r" x="891" y="4426">}</text>
<text class="t r" x="887" y="4447" textLength="102" lengthAdjust="spacingAndGlyphs">prev = root;</text>
<text class="t" x="885" y="4471" textLength="424" lengthAdjust="spacingAndGlyphs">inorderTraversal（root.right）；// 最后遍历右子树</text>
<text class="t" x="850" y="4503">}</text>
</g>
<g id="code6">
<text class="t r" x="539" y="4561" textLength="424" lengthAdjust="spacingAndGlyphs">root.left = prev; // [ left == prev ] 连接 前驱节点</text>
<text class="t r" x="545" y="4585" textLength="127" lengthAdjust="spacingAndGlyphs">if(prev != null){</text>
<text class="t r" x="566" y="4618" textLength="424" lengthAdjust="spacingAndGlyphs">prev.right = root; // [ right == next] 连接后驱节点</text>
<text class="t r" x="545" y="4649">}</text>
<text class="t r" x="1312" y="4653" textLength="102" lengthAdjust="spacingAndGlyphs">prev = root;</text>
</g>
<g id="mini1">
<rect x="668" y="4677" width="71" height="38" class="rbox"/><text class="t m v" x="709" y="4697">root</text>
<text class="t m v" x="794" y="4689">0x01</text>
<text class="t m v r" x="584" y="4833">prev</text>
<g id="m1-dead"><text class="t m v" x="646" y="4830">root</text><ellipse cx="646" cy="4830" rx="29" ry="25" fill="none" stroke="#ed1c24" stroke-width="2.5"/><line x1="630" y1="4809" x2="662" y2="4851" class="lr"/><line x1="662" y1="4809" x2="630" y2="4851" class="lr"/></g>
<text class="t m v" x="729" y="4828">0x00</text><text class="t m v" x="869" y="4830">0x02</text>
<text class="t e v" x="691" y="4898">prev / left</text><text class="t e v" x="691" y="4935">next / right</text>
<g id="m1-1"><use href="#b" x="765" y="4711"/><text class="t m v" x="798" y="4729">1</text><text class="t m v r" x="798" y="4765">0x00</text><text class="t m v" x="798" y="4800">0x02</text></g>
<g id="m1-0"><use href="#b" x="698" y="4845"/><text class="t m v" x="731" y="4863">0</text><text class="t m v" x="731" y="4899">null</text><text class="t m v r" x="731" y="4934">0x01</text></g>
<g id="m1-2"><use href="#b" x="837" y="4846"/><text class="t m v" x="870" y="4864">2</text><text class="t m v" x="870" y="4900">null</text><text class="t m v" x="870" y="4935">null</text></g>
</g>
<g id="mini2">
<text class="t m v r" x="1098" y="4762">prev</text>
<text class="t m v" x="1243" y="4756">0x00</text>
<rect x="1297" y="4731" width="73" height="38" class="rbox"/><text class="t m v" x="1338" y="4752">root</text>
<text class="t m v" x="1429" y="4742">0x01</text><text class="t m v" x="1577" y="4767">0x02</text>
<text class="t e v" x="1204" y="4828">prev / left</text><text class="t e v" x="1204" y="4865">next / right</text>
<g id="m2-0"><use href="#b" x="1211" y="4773"/><text class="t m v" x="1244" y="4791">0</text><text class="t m v" x="1244" y="4827">null</text><text class="t m v r" x="1244" y="4862">0x01</text></g>
<g id="m2-1"><use href="#b" x="1396" y="4764"/><text class="t m v" x="1429" y="4782">1</text><text class="t m v r" x="1429" y="4818">0x00</text><text class="t m v" x="1429" y="4853">0x02</text></g>
<g id="m2-2"><use href="#b" x="1543" y="4783"/><text class="t m v" x="1576" y="4801">2</text><text class="t m v" x="1576" y="4837">null</text><text class="t m v" x="1576" y="4872">null</text></g>
</g>
<text class="t" x="694" y="5068" textLength="425" lengthAdjust="spacingAndGlyphs">inorderTraversal（root.right）；// 最后遍历右子树</text>
<text class="t r m" x="887" y="5091">2</text>

<!-- ============ section 7 ============ -->
<g id="code7">
<text class="t r" x="556" y="5168" textLength="491" lengthAdjust="spacingAndGlyphs">TreeNode prev；// 定义一个 属性 prev，初始值 为 null【</text>
<text class="t r" x="1083" y="5167" textLength="169" lengthAdjust="spacingAndGlyphs">此时 prev ==  0x01</text>
<text class="t r" x="1297" y="5168">】</text>
<text class="t" x="562" y="5201" textLength="407" lengthAdjust="spacingAndGlyphs">public void inorderTraversal（TreeNode root）{</text>
<text class="t r m" x="923" y="5222">2</text>
<text class="t" x="602" y="5233" textLength="132" lengthAdjust="spacingAndGlyphs">if(root == null){</text>
<text class="t" x="632" y="5266" textLength="94" lengthAdjust="spacingAndGlyphs">return null;</text>
<text class="t" x="602" y="5297">}</text>
<text class="t" x="602" y="5330" textLength="728" lengthAdjust="spacingAndGlyphs">inorderTraversal（root.left）；// 先遍历左子树<tspan class="r">【null开始结束，不会再有下一次递归】</tspan></text>
<text class="t r" x="599" y="5369" textLength="426" lengthAdjust="spacingAndGlyphs">root.left = prev; // [ left == prev ] 连接 前驱节点</text>
<text class="t r" x="605" y="5393" textLength="127" lengthAdjust="spacingAndGlyphs">if(prev != null){</text>
<text class="t r" x="626" y="5427" textLength="425" lengthAdjust="spacingAndGlyphs">prev.right = root; // [ right == next] 连接后驱节点</text>
<text class="t r" x="605" y="5457">}</text>
<text class="t r" x="602" y="5477" textLength="102" lengthAdjust="spacingAndGlyphs">prev = root;</text>
<text class="t" x="598" y="5502" textLength="427" lengthAdjust="spacingAndGlyphs">inorderTraversal（root.right）；// 最后遍历右子树</text>
<text class="t" x="566" y="5533" fill="#1f4e9e" style="fill:#1f4e9e">}</text>
</g>
<g id="code8">
<text class="t r" x="267" y="5641" textLength="425" lengthAdjust="spacingAndGlyphs">root.left = prev; // [ left == prev ] 连接 前驱节点</text>
<text class="t r" x="272" y="5665" textLength="128" lengthAdjust="spacingAndGlyphs">if(prev != null){</text>
<text class="t r" x="295" y="5698" textLength="425" lengthAdjust="spacingAndGlyphs">prev.right = root; // [ right == next] 连接后驱节点</text>
<text class="t r" x="272" y="5728">}</text>
<text class="t r" x="1188" y="5720" textLength="103" lengthAdjust="spacingAndGlyphs">prev = root;</text>
</g>
<g id="final-left">
<text class="t m v r" x="539" y="5789">prev</text><text class="t m v" x="708" y="5794">root</text>
<text class="t m v" x="575" y="5819">0x01</text><text class="t m v" x="720" y="5830">0x02</text><text class="t m v" x="391" y="5832">0x00</text>
<text class="t e v" x="353" y="5902">prev / left</text><text class="t e v" x="353" y="5939">next / right</text>
<g id="fl-0"><use href="#b" x="359" y="5848"/><text class="t m v" x="392" y="5866">0</text><text class="t m v" x="392" y="5902">null</text><text class="t m v r" x="392" y="5937">0x01</text></g>
<g id="fl-1"><use href="#b" x="544" y="5840"/><text class="t m v" x="577" y="5858">1</text><text class="t m v r" x="577" y="5894">0x00</text><text class="t m v" x="577" y="5929">0x02</text></g>
<g id="fl-2"><use href="#b" x="688" y="5845"/><text class="t m v" x="721" y="5863">2</text><text class="t m v r" x="721" y="5899">0x01</text><text class="t m v" x="721" y="5934">null</text></g>
</g>
<g id="final-right">
<text class="t m v r" x="1432" y="5769">prev</text><text class="t m v" x="1435" y="5798">root</text>
<text class="t m v" x="1300" y="5823">0x01</text><text class="t m v" x="1117" y="5837">0x00</text><text class="t m v" x="1447" y="5834">0x02</text>
<text class="t e v" x="1080" y="5906">prev / left</text><text class="t e v" x="1080" y="5943">next / right</text>
<g id="fr-0"><use href="#b" x="1086" y="5852"/><text class="t m v" x="1119" y="5870">0</text><text class="t m v" x="1119" y="5906">null</text><text class="t m v r" x="1119" y="5941">0x01</text></g>
<g id="fr-1"><use href="#b" x="1270" y="5844"/><text class="t m v" x="1303" y="5862">1</text><text class="t m v r" x="1303" y="5898">0x00</text><text class="t m v" x="1303" y="5933">0x02</text></g>
<g id="fr-2"><use href="#b" x="1414" y="5849"/><text class="t m v" x="1447" y="5867">2</text><text class="t m v r" x="1447" y="5903">0x01</text><text class="t m v" x="1447" y="5938">null</text></g>
</g>
<text class="t r" x="686" y="6018" textLength="409" lengthAdjust="spacingAndGlyphs">这是不是就转换成功了！【后面运行情况，自行脑补】</text>
<text class="t" x="1676" y="6047" textLength="195" lengthAdjust="spacingAndGlyphs" style="fill:#9a9a9a">CSDN @Dark And Grey</text>
</g>
</svg>
